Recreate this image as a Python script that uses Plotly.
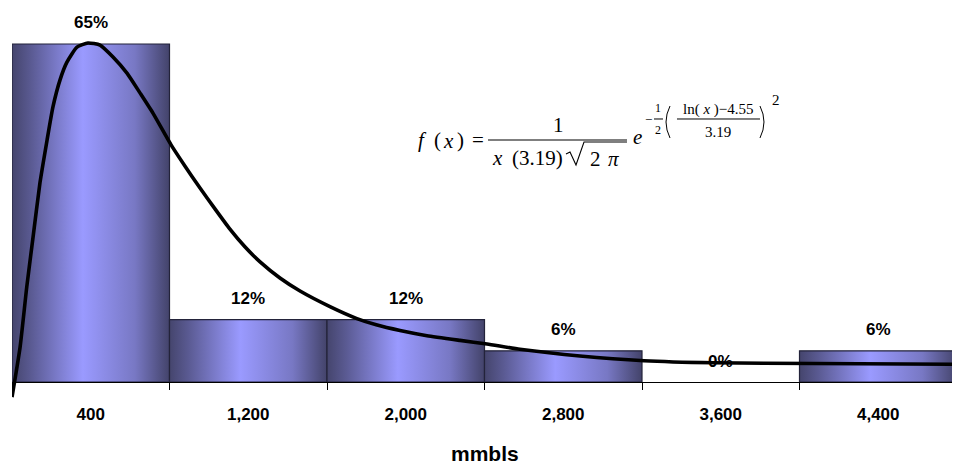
import plotly.graph_objects as go

# ---------------- data ----------------
categories = ["400", "1,200", "2,000", "2,800", "3,600", "4,400"]
bin_centers = [400, 1200, 2000, 2800, 3600, 4400]
bin_width = 800
percents = [65, 12, 12, 6, 0, 6]
bin_edges = [0, 800, 1600, 2400, 3200, 4000, 4800]

curve_x = [0, 41, 75, 107, 142, 178, 208, 244, 279, 330, 386, 447, 513, 584, 650,
           716, 808, 879, 955, 1031, 1107, 1183, 1260, 1361, 1463, 1615, 1752, 1850,
           1971, 2108, 2276, 2413, 2580, 2885, 3210, 3561, 4069, 4800]
curve_y = [-2.9, 6.7, 18.3, 27.9, 38.3, 46.5, 52.9, 58.1, 61.5, 64.4, 65.2, 64.8,
           62.5, 59.4, 55.6, 51.7, 45.6, 41.5, 37.3, 33.3, 29.4, 26.0, 23.1, 20.0,
           17.5, 14.5, 12.2, 11.0, 9.9, 8.9, 8.0, 7.3, 6.3, 5.0, 4.1, 3.7, 3.55, 3.4]

x_title = "mmbls"

# ---------------- layout constants ----------------
OFF = 8                     # page body margin of the browser
W, H = 952, 461
ML, MR, MT, MB = 4, 3, 22, 69
PW = W - ML - MR
PH = H - MT - MB
Y_TOP, Y_BOT = 67.69, -3.46

SANS = "Arial, Liberation Sans, sans-serif"
SERIF = "Times New Roman, Liberation Serif, serif"

bar_scale = [[0.0, "#45456d"], [0.12, "#5a5a92"], [0.45, "#9a9aff"],
             [0.78, "#7878c4"], [1.0, "#43436a"]]

fig = go.Figure()

for c, v in zip(bin_centers, percents):
    if v == 0:
        continue
    x0, x1 = c - bin_width / 2, c + bin_width / 2
    fig.add_trace(go.Scatter(
        x=[x0, x0, x1, x1, x0], y=[0, v, v, 0, 0],
        mode="lines", fill="toself",
        fillgradient=dict(type="horizontal", colorscale=bar_scale),
        line=dict(color="#23233a", width=1.2),
        hoverinfo="skip", showlegend=False))

fig.add_trace(go.Scatter(
    x=curve_x, y=curve_y, mode="lines",
    line=dict(color="black", width=3.6, shape="spline", smoothing=0.5),
    showlegend=False, hoverinfo="skip"))

# percent labels
for c, v in zip(bin_centers, percents):
    fig.add_annotation(x=c, y=v, xref="x", yref="y", text=f"<b>{v}%</b>",
                       showarrow=False, yanchor="middle", yshift=21,
                       font=dict(family=SANS, size=17, color="black"))

# axis title
fig.add_annotation(x=0.5, y=0, xref="paper", yref="paper", text=f"<b>{x_title}</b>",
                   showarrow=False, yanchor="middle", yshift=-53,
                   font=dict(family=SANS, size=21, color="black"))


def P(px, py):
    """reference-page pixel -> paper coordinates"""
    return (px - OFF - ML) / PW, (H - MB - (py - OFF)) / PH


def txt(s, px, py, size, family=SERIF):
    x, y = P(px, py)
    fig.add_annotation(x=x, y=y, xref="paper", yref="paper", text=s,
                       showarrow=False, xanchor="center", yanchor="middle",
                       font=dict(family=family, size=size, color="black"))


def path(points, w=1.2, curve=False):
    pts = [P(*p) for p in points]
    if curve:
        (x0, y0), (xc, yc), (x1, y1) = pts
        d = f"M {x0:.5f},{y0:.5f} Q {xc:.5f},{yc:.5f} {x1:.5f},{y1:.5f}"
    else:
        d = "M " + " L ".join(f"{x:.5f},{y:.5f}" for x, y in pts)
    fig.add_shape(type="path", xref="paper", yref="paper", path=d,
                  line=dict(color="black", width=w))


F = 21
txt("<i>f</i>", 422, 140, F)
txt("(", 437, 140, F)
txt("<i>x</i>", 448, 141, F)
txt(")", 460, 140, F)
txt("=", 478, 140, F)
txt("1", 558, 125, F)
path([(488, 140), (627, 140)])
txt("<i>x</i>", 497, 158, F)
txt("(3.19)", 537, 158, F)
txt("2", 595, 159, F)
txt("<i>π</i>", 613, 159, F)
# radical sign
path([(566, 154), (570, 152), (576, 165), (584, 142), (627, 142)], w=1.1)
txt("<i>e</i>", 637, 137, F)
# exponent
txt("−", 648, 119, 13)
txt("1", 658, 108, 12)
txt("2", 658, 130, 12)
path([(654, 119), (663, 119)], w=1)
path([(670, 106), (662, 122), (670, 138)], w=1, curve=True)
path([(760, 106), (768, 122), (760, 138)], w=1, curve=True)
txt("ln( <i>x</i> )−4.55", 718, 109, 15)
path([(677, 119), (760, 119)], w=1)
txt("3.19", 718, 132, 15)
txt("2", 776, 100, 15)

pos0 = (0 - Y_BOT) / (Y_TOP - Y_BOT)

fig.update_layout(
    width=W, height=H,
    margin=dict(l=ML, r=MR, t=MT, b=MB, autoexpand=False),
    paper_bgcolor="white", plot_bgcolor="white",
    xaxis=dict(range=[0, 4800], anchor="free", position=pos0,
               tickmode="array", tickvals=bin_centers, ticktext=categories,
               ticks="", showgrid=False, zeroline=False,
               showline=True, linecolor="black", linewidth=1,
               tickfont=dict(family=SANS, size=17, color="black", weight="bold"),
               ticklabelstandoff=17,
               minor=dict(tickmode="array", tickvals=bin_edges, ticks="outside",
                          ticklen=7, tickcolor="black", tickwidth=1, showgrid=False)),
    yaxis=dict(range=[Y_BOT, Y_TOP], visible=False, domain=[0, 1]),
)

fig.write_html("out.html")
